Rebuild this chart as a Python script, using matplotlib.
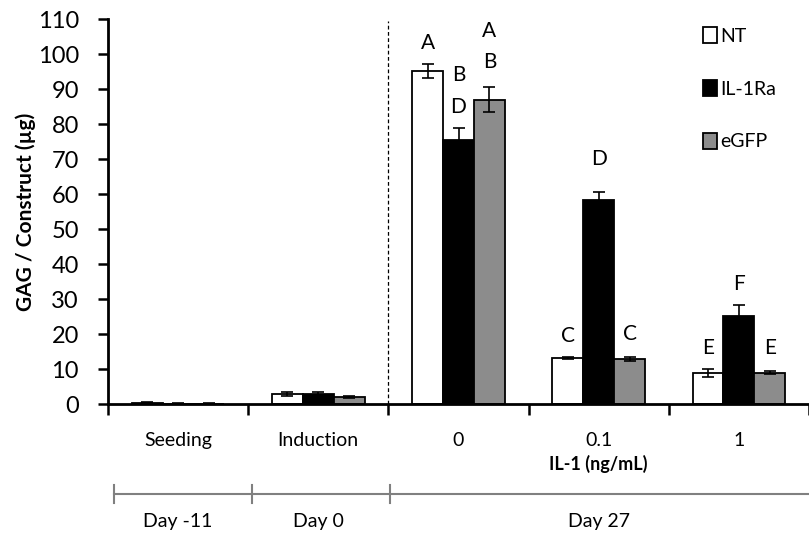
import numpy as np
import matplotlib
matplotlib.use("Agg")
import matplotlib.pyplot as plt
from matplotlib.patches import Patch
import matplotlib.transforms as mtransforms

plt.rcParams["font.family"] = ["Lato", "DejaVu Sans"]

categories = ["Seeding", "Induction", "0", "0.1", "1"]
series = ["NT", "IL-1Ra", "eGFP"]
colors = ["white", "black", "#8c8c8c"]

nt = [0.4, 2.8, 95.2, 13.2, 8.9]
nt_err = [0.1, 0.5, 2.1, 0.3, 1.1]
il1ra = [0.1, 2.9, 75.5, 58.3, 25.2]
il1ra_err = [0.05, 0.4, 3.3, 2.3, 3.2]
egfp = [0.1, 2.0, 87.0, 12.8, 9.0]
egfp_err = [0.05, 0.4, 3.6, 0.5, 0.5]

# significance letters: (category index, series index, text, y)
letters = [
    (2, 0, "A", 103.3), (2, 1, "B", 94.0), (2, 1, "D", 85.0),
    (2, 2, "A", 106.7), (2, 2, "B", 97.8),
    (3, 0, "C", 19.3), (3, 1, "D", 70.0), (3, 2, "C", 19.9),
    (4, 0, "E", 16.1), (4, 1, "F", 34.2), (4, 2, "E", 16.1),
]

days = ["Day -11", "Day 0", "Day 27"]
day_bounds = [-0.46, 0.53, 1.51, 4.6]

fig = plt.figure(figsize=(8.09, 5.33), dpi=100)
ax = fig.add_axes([0.1335, 0.242, 0.8665, 0.722])

x = np.arange(len(categories))
w = 0.22
values = [nt, il1ra, egfp]
errs = [nt_err, il1ra_err, egfp_err]
for i, (vals, err, c, name) in enumerate(zip(values, errs, colors, series)):
    ax.bar(x + (i - 1) * w, vals, width=w, color=c, edgecolor="black",
           linewidth=1.3, label=name, zorder=2)
    ax.errorbar(x + (i - 1) * w, vals, yerr=err, fmt="none", ecolor="black",
                elinewidth=1.2, capsize=4.5, capthick=1.2, zorder=3)

for ci, si, t, y in letters:
    ax.text(x[ci] + (si - 1) * w, y, t, ha="center", va="center", fontsize=15)

ax.axvline(1.5, ymin=0, ymax=0.995, color="black", linestyle=(0, (3, 2)), linewidth=0.9)

ax.set_xlim(-0.5, 4.47)
ax.set_ylim(0, 110)
ax.set_yticks(np.arange(0, 111, 10))
ax.tick_params(axis="y", labelsize=17, direction="out", length=7, width=1.8, pad=14)
ax.set_xticks(x)
ax.set_xticklabels(categories, fontsize=14)
ax.tick_params(axis="x", which="major", length=0, pad=20)
ax.set_xticks(np.arange(-0.5, 4.6, 1), minor=True)
ax.tick_params(axis="x", which="minor", direction="out", length=8, width=1.8)
for s in ["top", "right"]:
    ax.spines[s].set_visible(False)
for s in ["left", "bottom"]:
    ax.spines[s].set_linewidth(2)

ax.set_ylabel("GAG / Construct (µg)", fontsize=15, fontweight="bold", labelpad=1)
ax.text(3, -0.155, "IL-1 (ng/mL)", transform=mtransforms.blended_transform_factory(ax.transData, ax.transAxes),
        ha="center", va="center", fontsize=13, fontweight="bold")

# timeline below the axis
tr = mtransforms.blended_transform_factory(ax.transData, ax.transAxes)
ax.plot([day_bounds[0], day_bounds[-1]], [-0.235, -0.235], color="#808080", lw=1.5,
        transform=tr, clip_on=False)
for b in day_bounds[:-1]:
    ax.plot([b, b], [-0.211, -0.258], color="#808080", lw=1.5, transform=tr, clip_on=False)
day_centers = [0, 1, 3]
for dc, d in zip(day_centers, days):
    ax.text(dc, -0.305, d, transform=tr, ha="center", va="center", fontsize=14)

ax.legend(handles=[Patch(facecolor=c, edgecolor="black", linewidth=1.3) for c in colors],
          labels=series, loc="upper left", bbox_to_anchor=(0.838, 1.0), frameon=False,
          handlelength=0.7, handleheight=0.9, handletextpad=0.2, labelspacing=1.8,
          fontsize=14, borderaxespad=0)

fig.savefig("out.png", dpi=100)
